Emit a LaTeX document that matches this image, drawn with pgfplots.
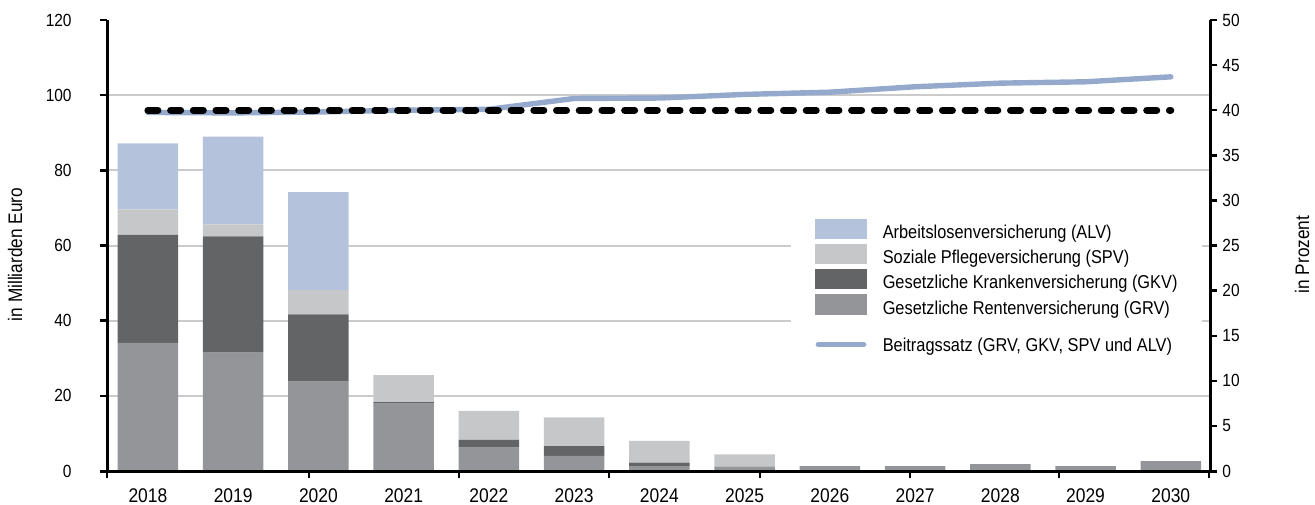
\documentclass[border=0pt]{standalone}
\usepackage{pgfplots}
\usepackage{pgfplotstable}
\pgfplotsset{compat=1.18}
\usepackage{fontspec}
\setmainfont{Liberation Sans}[FakeStretch=0.88]

\definecolor{alv}{HTML}{B4C3DB}
\definecolor{spv}{HTML}{C6C7C9}
\definecolor{gkv}{HTML}{636466}
\definecolor{grv}{HTML}{949598}
\definecolor{rate}{HTML}{94A9CB}
\definecolor{gridgrey}{HTML}{CBCBCB}

% Mrd. Euro je Jahr (2018 = 0 ... 2030 = 12)
\pgfplotstableread{
x   grv   gkv   spv   alv
0   34.1  28.7  6.8   17.6
1   31.5  30.9  3.2   23.4
2   23.8  17.9  6.4   26.1
3   17.9  0.4   7.2   0
4   6.2   2.1   7.7   0
5   4.0   2.6   7.7   0
6   1.3   0.9   5.8   0
7   0.9   0.2   3.3   0
8   1.3   0     0     0
9   1.3   0     0     0
10  1.8   0     0     0
11  1.3   0     0     0
12  2.6   0     0     0
}\beitraege

% Beitragssatz in Prozent
\pgfplotstableread{
x   satz
0   39.75
1   39.7
2   39.8
3   40.0
4   40.1
5   41.3
6   41.35
7   41.75
8   42.0
9   42.6
10  43.0
11  43.15
12  43.7
}\satz

\begin{document}
\begin{tikzpicture}
\useasboundingbox (-53.5pt,-16.5pt) rectangle (604pt,235.5pt);
\begin{axis}[
  scale only axis, width=551.5pt, height=225.5pt,
  xmin=-0.48, xmax=12.46, ymin=0, ymax=120,
  ybar stacked, bar width=30.25pt,
  axis x line*=bottom, axis y line*=left,
  axis line style={-, line width=1.5pt},
  x axis line style={shorten <=-3.5pt, shorten >=-3.5pt},
  tick align=outside, major tick length=3.5pt,
  tick style={black, line width=1.2pt},
  xtick={0,...,12},
  xticklabels={2018,2019,2020,2021,2022,2023,2024,2025,2026,2027,2028,2029,2030},
  xtick style={draw=none},
  xticklabel style={font=\fontsize{9.9}{11}\selectfont, anchor=north, inner sep=0pt, yshift=-5pt},
  ytick={0,20,...,100}, extra y ticks={120},
  extra y tick style={grid=none},
  ymajorgrids, grid style={gridgrey, line width=1pt},
  yticklabel style={font=\fontsize{8.8}{10}\selectfont, anchor=east, inner sep=0pt, xshift=-14pt},
  /pgf/number format/assume math mode=true,
  ylabel={in Milliarden Euro},
  every axis y label/.style={at={(rel axis cs:0,0.48)}, xshift=-46pt, rotate=90, anchor=center, font=\fontsize{9.8}{11}\selectfont},
]
\addplot[fill=grv, draw=none] table[x=x, y=grv] {\beitraege};
\addplot[fill=gkv, draw=none] table[x=x, y=gkv] {\beitraege};
\addplot[fill=spv, draw=none] table[x=x, y=spv] {\beitraege};
\addplot[fill=alv, draw=none] table[x=x, y=alv] {\beitraege};
\end{axis}

\begin{axis}[
  scale only axis, width=551.5pt, height=225.5pt,
  xmin=-0.48, xmax=12.46, ymin=0, ymax=50,
  axis x line*=bottom, axis y line*=right,
  axis line style={-, line width=1.5pt},
  x axis line style={shorten <=-3.5pt, shorten >=-3.5pt},
  tick align=outside, major tick length=3.5pt,
  tick style={black, line width=1.2pt},
  xtick={-0.48,1.89,3.65,5.41,7.18,8.94,10.69,12.45},
  xticklabels={},
  ytick={0,5,...,50},
  yticklabel style={font=\fontsize{8.8}{10}\selectfont, anchor=west, inner sep=0pt, xshift=2.5pt},
  /pgf/number format/assume math mode=true,
  ylabel={in Prozent},
  every axis y label/.style={at={(rel axis cs:1,0.48)}, xshift=46pt, rotate=90, anchor=center, font=\fontsize{9.8}{11}\selectfont},
  legend style={at={(0.620,0.6047)}, anchor=north west, draw=none, fill=white,
    inner xsep=12pt, inner ysep=10pt, row sep=0.2pt, column sep=8pt,
    font=\fontsize{9.3}{11}\selectfont,
    nodes={inner sep=0pt, text height=9.7pt, text depth=2.5pt},
    cells={anchor=base west}},
]
\addlegendimage{legend image code/.code={\fill[alv] (0pt,0pt) rectangle (25.35pt,9.7pt);}}
\addlegendentry{Arbeitslosenversicherung (ALV)}
\addlegendimage{legend image code/.code={\fill[spv] (0pt,0pt) rectangle (25.35pt,9.7pt);}}
\addlegendentry{Soziale Pflegeversicherung (SPV)}
\addlegendimage{legend image code/.code={\fill[gkv] (0pt,0pt) rectangle (25.35pt,9.7pt);}}
\addlegendentry{Gesetzliche Krankenversicherung (GKV)}
\addlegendimage{legend image code/.code={\fill[grv] (0pt,0pt) rectangle (25.35pt,9.7pt);}}
\addlegendentry[text depth=8.7pt]{Gesetzliche Rentenversicherung (GRV)}
\addlegendimage{legend image code/.code={\draw[rate, line width=2.7pt, line cap=round] (1.35pt,3.3pt) -- (24pt,3.3pt);}}
\addlegendentry{Beitragssatz (GRV, GKV, SPV und ALV)}
\addplot[rate, line width=2.7pt, line cap=round, line join=round, forget plot] table[x=x, y=satz] {\satz};
\addplot[black, line width=3.5pt, line cap=round, dash pattern=on 5pt off 6.35pt, forget plot] coordinates {(0,40) (12,40)};
\end{axis}
\end{tikzpicture}
\end{document}
